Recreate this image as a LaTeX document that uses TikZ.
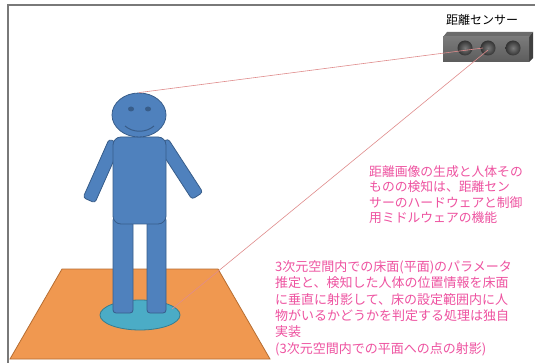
\documentclass[tikz,border=0pt]{standalone}
\usepackage{fontspec}
\setmainfont{Noto Sans CJK JP}
\usetikzlibrary{shapes.geometric}

\definecolor{bodyblue}{RGB}{79,129,189}
\definecolor{bodyedge}{RGB}{56,93,138}
\definecolor{floororange}{RGB}{240,152,80}
\definecolor{flooredge}{RGB}{182,109,49}
\definecolor{spotcyan}{RGB}{75,172,198}
\definecolor{spotedge}{RGB}{53,125,145}
\definecolor{notepink}{RGB}{238,82,160}
\definecolor{raycol}{RGB}{224,140,140}

\begin{document}
\begin{tikzpicture}[x=1pt,y=-1pt,
		body/.style={draw=bodyedge,fill=bodyblue,line width=0.8pt,inner sep=0pt},
		limb/.style={body,rounded corners=3pt,minimum width=13pt},
		leg/.style={body,rounded corners=3pt,minimum height=96pt},
		lens/.style={circle,inner sep=0pt,minimum size=15pt},
		ray/.style={draw=raycol,line width=0.6pt},
		note/.style={text=notepink,align=left,anchor=north west,inner sep=0pt}]
		\useasboundingbox (0,0) rectangle (535,363);
		\fill[white] (0,0) rectangle (535,363);
		% frame
		\draw[gray!95!black,line width=2.2pt] (8,363) to (8,5) to (535,5);
		
		% floor and the spot under the feet
		\draw[fill=floororange,draw=flooredge,line width=0.8pt] (62,269) to (218,269) to (270,359) to (10,359) to cycle;
		\node[ellipse,draw=spotedge,fill=spotcyan,line width=0.8pt,minimum width=80pt,minimum height=30pt,inner sep=0pt] (spot) at (140,315) {};
		\coordinate (spotmark) at (172,309);
		
		% person
		\node[leg,minimum width=20pt] (lleg) at (123,265) {};
		\node[leg,minimum width=19pt] (rleg) at (156.5,265) {};
		\node[limb,minimum height=64pt,rotate=-24] (larm) at (102,171) {};
		\node[limb,minimum height=64pt,rotate=33] (rarm) at (180,169) {};
		\node[body,rounded corners=8pt,minimum width=53pt,minimum height=87pt] (torso) at (139.5,180.5) {};
		\node[body,ellipse,minimum width=54pt,minimum height=44pt] (head) at (139,115) {};
		\fill[bodyedge] (131,109) ellipse (3 and 2.5);
		\fill[bodyedge] (148,109) ellipse (3 and 2.5);
		\draw[bodyedge,line width=1pt] (125,126) .. controls (133,133) and (146,133) .. (154,126);
		
		% sensor
		\node[font=\fontsize{12}{14}\selectfont] (sensorlabel) at (482,20) {距離センサー};
		\fill[gray!55!black!80] (443,37) to (447,32) to (533,32) to (529,37) to cycle;
		\fill[black!75] (529,37) to (533,32) to (533,58) to (529,62) to cycle;
		\node[minimum width=86pt,minimum height=25pt,inner sep=0pt,top color=black!52,bottom color=black!64] (sensor) at (486,49.5) {};
		\foreach \n/\x in {1/465,2/488,3/513}{
			\node[lens,inner color=black!52,outer color=black!80] (lens\n) at (\x,48) {};
		}
		\coordinate (hit1) at (483,48);
		\coordinate (hit2) at (488,50);
		
		% lines of sight
		\draw[ray] (head.north) to (hit1);
		\draw[ray] (spotmark) to (hit2);
		
		% notes
		\node[note,font=\fontsize{12.8}{15.5}\selectfont] (hwnote) at (369,165.5) {距離画像の生成と人体その\\ものの検知は、距離セン\\サーのハードウェアと制御\\用ミドルウェアの機能};
		\node[note,font=\fontsize{13}{16.3}\selectfont] (swnote) at (275,260.5) {3次元空間内での床面(平面)のパラメータ\\推定と、検知した人体の位置情報を床面\\に垂直に射影して、床の設定範囲内に人\\物がいるかどうかを判定する処理は独自\\実装\\(3次元空間内での平面への点の射影)};
	\end{tikzpicture}
\end{document}
